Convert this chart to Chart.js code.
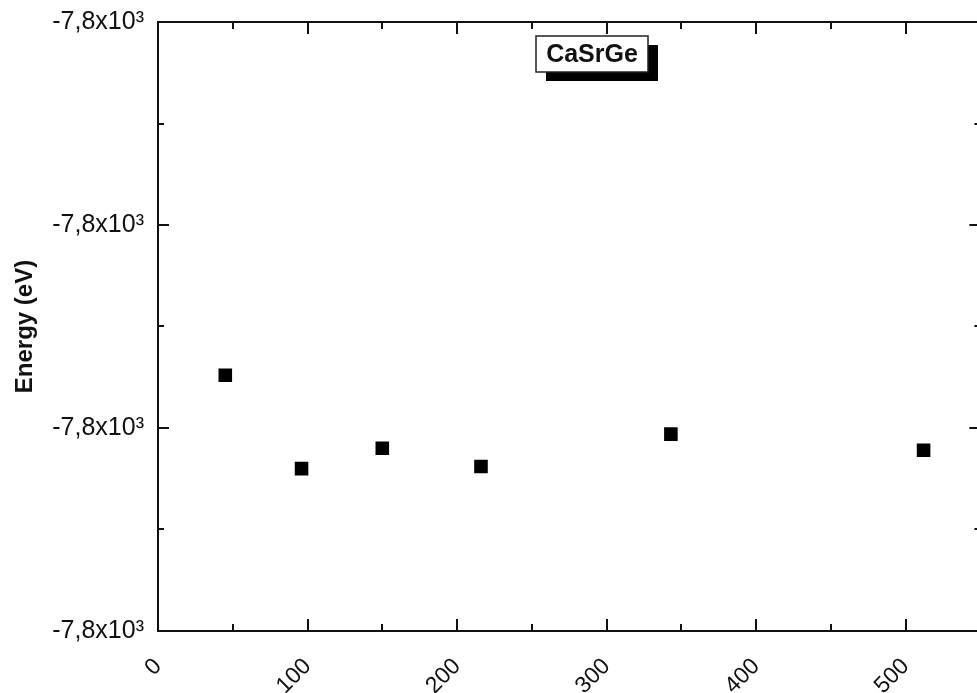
<!DOCTYPE html>
<html><head><meta charset="utf-8">
<script src="https://cdn.jsdelivr.net/npm/chart.js@4/dist/chart.umd.min.js"></script>
<style>html,body{margin:0;padding:0;overflow:hidden;background:#fff}#wrap{width:990px;height:693px}</style>
</head><body><div id="wrap"><canvas id="c" width="990" height="693" style="width:990px;height:693px"></canvas></div>
<script>
const kPoints = [45, 96, 150, 216, 343, 512];
const energies = [-7800.174, -7800.220, -7800.210, -7800.219, -7800.203, -7800.211];
const xTicks = [0, 100, 200, 300, 400, 500];
const yTicks = [-7800.3, -7800.2, -7800.1, -7800.0];
const yTickLabel = '-7,8x10³';
const seriesName = 'CaSrGe';
const yTitle = 'Energy (eV)';
const X_MIN = 0, X_MAX = 550, Y_MIN = -7800.3, Y_MAX = -7800.0;

const INK = '#111';
const FONT = '"Liberation Sans", Arial, sans-serif';

const framePlugin = {
  id: 'frame',
  afterDraw(chart) {
    const {ctx, chartArea: a, scales: {x, y}} = chart;
    ctx.save();
    ctx.strokeStyle = INK;
    ctx.lineWidth = 2;
    ctx.strokeRect(a.left, a.top, a.right - a.left, a.bottom - a.top);
    const xm = [];
    for (let i = 0; i < xTicks.length; i++) {
      xm.push([xTicks[i], 12]);
      const mid = i + 1 < xTicks.length ? (xTicks[i] + xTicks[i + 1]) / 2 : xTicks[i] + (xTicks[i] - xTicks[i - 1]) / 2;
      if (mid < X_MAX) xm.push([mid, 7]);
    }
    ctx.beginPath();
    xm.forEach(([v, len]) => {
      const px = Math.round(x.getPixelForValue(v));
      ctx.moveTo(px, a.bottom); ctx.lineTo(px, a.bottom - len);
      ctx.moveTo(px, a.top); ctx.lineTo(px, a.top + len);
    });
    const ym = [];
    for (let i = 0; i < yTicks.length; i++) {
      ym.push([yTicks[i], 11]);
      if (i + 1 < yTicks.length) ym.push([(yTicks[i] + yTicks[i + 1]) / 2, 6]);
    }
    ym.forEach(([v, len]) => {
      const py = Math.round(y.getPixelForValue(v));
      ctx.moveTo(a.left, py); ctx.lineTo(a.left + len, py);
      ctx.moveTo(a.right, py); ctx.lineTo(a.right - len, py);
    });
    ctx.stroke();

    const bx = a.left + 378, by = a.top + 14, bw = 112, bh = 36;
    ctx.fillStyle = '#000';
    ctx.fillRect(bx + 10, by + 9, bw, bh);
    ctx.fillStyle = '#fff';
    ctx.fillRect(bx, by, bw, bh);
    ctx.lineWidth = 1.5;
    ctx.strokeStyle = '#222';
    ctx.strokeRect(bx, by, bw, bh);
    ctx.fillStyle = INK;
    ctx.font = 'bold 25px ' + FONT;
    ctx.textAlign = 'center';
    ctx.textBaseline = 'middle';
    ctx.fillText(seriesName, bx + bw / 2, by + bh / 2 + 1);
    ctx.restore();
  }
};

new Chart(document.getElementById('c'), {
  type: 'scatter',
  data: {
    datasets: [{
      label: seriesName,
      data: kPoints.map((k, i) => ({x: k, y: energies[i]})),
      pointStyle: 'rect',
      pointRadius: 9.6,
      pointHoverRadius: 9.6,
      backgroundColor: '#000',
      borderColor: '#000',
      borderWidth: 0
    }]
  },
  options: {
    responsive: false,
    animation: false,
    events: [],
    layout: {padding: {top: 22, right: 7, bottom: 0, left: 0}},
    plugins: {legend: {display: false}, tooltip: {enabled: false}},
    scales: {
      x: {
        type: 'linear', min: X_MIN, max: X_MAX,
        grid: {display: false}, border: {display: false},
        afterBuildTicks(s) { s.ticks = xTicks.map(v => ({value: v})); },
        afterFit(s) { s.height = 62; },
        ticks: {
          autoSkip: false, minRotation: 45, maxRotation: 45, padding: 14,
          color: INK, font: {family: FONT, size: 23},
          callback: v => String(v)
        }
      },
      y: {
        type: 'linear', min: Y_MIN, max: Y_MAX,
        grid: {display: false}, border: {display: false},
        afterBuildTicks(s) { s.ticks = yTicks.map(v => ({value: v})); },
        afterFit(s) { s.width = 158; },
        ticks: {
          padding: 6, color: INK, font: {family: FONT, size: 25, lineHeight: 1},
          callback: () => yTickLabel
        },
        title: {
          display: true, text: yTitle, color: INK,
          font: {family: FONT, size: 24, weight: 'bold'},
          padding: {top: 11, bottom: 0}
        }
      }
    }
  },
  plugins: [framePlugin]
});
</script>
</body></html>
